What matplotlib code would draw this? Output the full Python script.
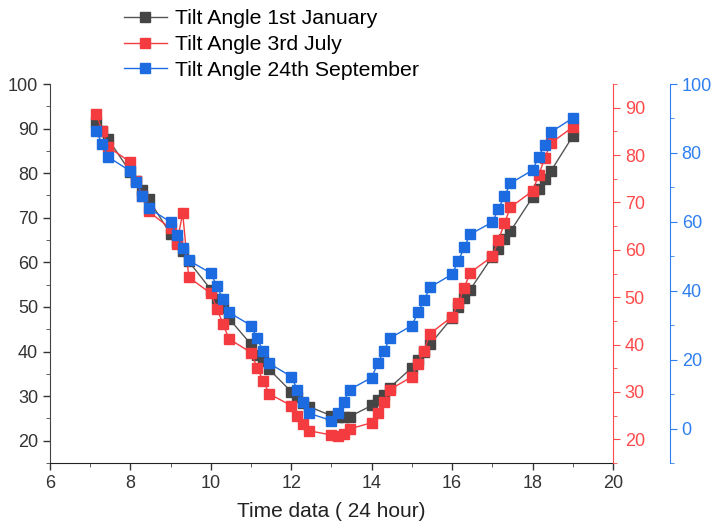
import numpy as np
import matplotlib
matplotlib.use('Agg')
from matplotlib import pyplot as plt
from matplotlib.ticker import MultipleLocator

plt.rcParams['font.family'] = ['Liberation Sans', 'DejaVu Sans']

# time written as hh.mm (quarter hours)
hours = [7.15, 7.30, 7.45,
         8.00, 8.15, 8.30, 8.45,
         9.00, 9.15, 9.30, 9.45,
         10.00, 10.15, 10.30, 10.45,
         11.00, 11.15, 11.30, 11.45,
         12.00, 12.15, 12.30, 12.45,
         13.00, 13.15, 13.30, 13.45,
         14.00, 14.15, 14.30, 14.45,
         15.00, 15.15, 15.30, 15.45,
         16.00, 16.15, 16.30, 16.45,
         17.00, 17.15, 17.30, 17.45,
         18.00, 18.15, 18.30, 18.45,
         19.00]

tilt_jan = [91.5, 89.5, 87.6,
            80.2, 78.2, 76.2, 74.2,
            66.3, 64.5, 62.5, 60.2,
            53.9, 51.7, 49.7, 47.4,
            41.6, 39.3, 37.8, 36.0,
            31.0, 29.7, 28.5, 27.6,
            25.6, 25.4, 25.4, 25.4,
            27.9, 29.2, 30.3, 31.9,
            36.4, 38.2, 40.0, 41.6,
            47.6, 49.9, 52.1, 53.9,
            61.3, 63.1, 65.2, 67.0,
            74.6, 76.4, 78.7, 80.4,
            88.3]

tilt_jul = [88.7, 85.1, 81.7,
            78.5, 74.5, 71.3, 68.1,
            64.5, 61.3, 67.7, 54.2,
            50.8, 47.6, 44.4, 41.2,
            38.3, 35.1, 32.4, 29.6,
            27.1, 25.0, 23.3, 21.8,
            20.9, 20.7, 21.1, 22.2,
            23.5, 25.6, 27.9, 30.5,
            33.2, 36.0, 38.7, 42.3,
            45.9, 48.7, 52.0, 55.2,
            58.6, 62.0, 65.6, 69.0,
            72.4, 75.7, 79.3, 82.5,
            85.9]

tilt_sep = [86.3, 82.6, 78.8,
            74.7, 71.5, 67.4, 64.0,
            59.9, 56.1, 52.3, 48.8,
            45.1, 41.3, 37.5, 33.7,
            29.9, 26.2, 22.4, 18.9,
            15.1, 11.3, 7.6, 4.4,
            2.3, 4.4, 7.8, 11.3,
            14.8, 18.9, 22.4, 26.2,
            29.9, 33.7, 37.2, 41.0,
            44.8, 48.5, 52.6, 56.4,
            59.9, 63.7, 67.4, 71.2,
            75.0, 78.8, 82.3, 86.0,
            90.1]

labels = ['Tilt Angle 1st January', 'Tilt Angle 3rd July', 'Tilt Angle 24th September']

c_black = '#454545'
c_red = '#f43b3f'
c_blue = '#1d6be0'
red_axis = '#ff4a4a'
blue_axis = '#2f7ff0'

fig = plt.figure(figsize=(7.13, 5.29), dpi=100)
ax = fig.add_axes([50/713, 1-463/529, 563/713, 379/529])
ax2 = ax.twinx()
ax3 = ax.twinx()

l1, = ax.plot(hours, tilt_jan, color='#555555', lw=1.0, marker='s', ms=6.5,
              mfc=c_black, mec=c_black)
l2, = ax2.plot(hours, tilt_jul, color=c_red, lw=1.0, marker='s', ms=6.5,
               mfc=c_red, mec=c_red)
l3, = ax3.plot(hours, tilt_sep, color=c_blue, lw=1.0, marker='s', ms=6.5,
               mfc=c_blue, mec=c_blue)

ax.set_xlim(6, 20)
ax.set_ylim(15, 100)
ax2.set_ylim(15, 95)
ax3.set_ylim(-10, 100)

ax.xaxis.set_major_locator(MultipleLocator(2))
ax.xaxis.set_minor_locator(MultipleLocator(1))
ax.yaxis.set_major_locator(MultipleLocator(10))
ax.yaxis.set_minor_locator(MultipleLocator(5))
ax.set_yticks(range(20, 101, 10))
ax2.set_yticks(range(20, 91, 10))
ax2.yaxis.set_minor_locator(MultipleLocator(5))
ax3.set_yticks(range(0, 101, 20))
ax3.yaxis.set_minor_locator(MultipleLocator(10))

for a in (ax, ax2, ax3):
    a.spines['top'].set_visible(False)
ax.spines['right'].set_visible(False)
ax2.spines['left'].set_visible(False)
ax3.spines['left'].set_visible(False)
ax3.spines['right'].set_position(('axes', 1.101))

ax.spines['left'].set_color('#444444')
ax.spines['bottom'].set_color('#222222')
ax2.spines['right'].set_color(red_axis)
ax3.spines['right'].set_color(blue_axis)
ax2.spines['bottom'].set_visible(False)
ax3.spines['bottom'].set_visible(False)

ax.tick_params(axis='both', which='major', direction='out', length=5, labelsize=13,
               colors='#333333', width=1)
ax.tick_params(axis='both', which='minor', direction='out', length=3, colors='#444444')
ax2.tick_params(axis='y', which='major', length=5, colors=red_axis, labelsize=13)
ax2.tick_params(axis='y', which='minor', length=3, colors=red_axis)
ax3.tick_params(axis='y', which='major', length=5, colors=blue_axis, labelsize=13)
ax3.tick_params(axis='y', which='minor', length=3, colors=blue_axis)

ax.set_xlabel('Time data ( 24 hour)', fontsize=15, color='#222222', labelpad=7)

fig.legend([l1, l2, l3], labels, loc='upper left', bbox_to_anchor=(121/713, 1 - 6/529),
           frameon=False, fontsize=15.3, handlelength=2.0, labelspacing=0.32,
           handletextpad=0.4, borderaxespad=0.0, borderpad=0.15)

fig.savefig('out.png', dpi=100)
